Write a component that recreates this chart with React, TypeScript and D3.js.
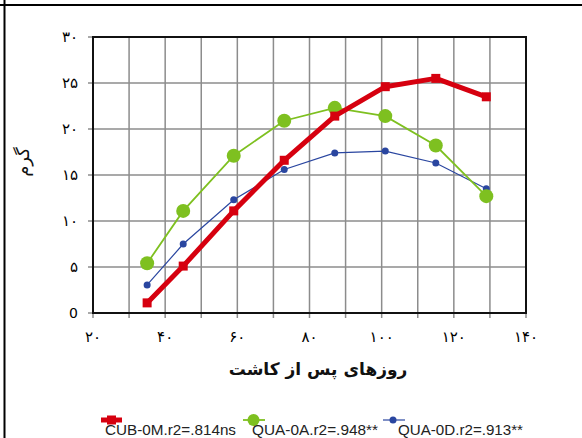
import * as React from 'react';
import * as d3 from 'd3';

// days after planting
const days = [35, 45, 59, 73, 87, 101, 115, 129];

const cub0M = [1.1, 5.1, 11.1, 16.6, 21.4, 24.6, 25.5, 23.5];
const qua0A = [5.4, 11.1, 17.1, 20.9, 22.3, 21.4, 18.2, 12.7];
const qua0D = [3.05, 7.5, 12.3, 15.6, 17.4, 17.6, 16.3, 13.5];

const seriesNames = ['CUB-0M.r2=.814ns', 'QUA-0A.r2=.948**', 'QUA-0D.r2=.913**'];

const xTicks = [20, 40, 60, 80, 100, 120, 140];
const xTickLabels = ['۲۰', '۴۰', '۶۰', '۸۰', '۱۰۰', '۱۲۰', '۱۴۰'];
const yTicks = [0, 5, 10, 15, 20, 25, 30];
const yTickLabels = ['0', '۵', '۱۰', '۱۵', '۲۰', '۲۵', '۳۰'];

const xTitle = 'روزهای پس از کاشت';
const yTitle = 'گرم';

const W = 582;
const H = 438;
const margin = {left: 93, right: 56, top: 37, bottom: 125};

export default function App() {
    const x = d3.scaleLinear().domain([20, 140]).range([margin.left, W - margin.right]);
    const y = d3.scaleLinear().domain([0, 30]).range([H - margin.bottom, margin.top]);
    const line = d3.line<number>().x((d, i) => x(days[i])).y(d => y(d));
    const xGrid = d3.range(30, 140, 10);
    const yGrid = d3.range(5, 30, 5);
    const x0 = x(20), x1 = x(140), y0 = y(0), y1 = y(30);

    return (
        <svg width={W} height={H} style={{position: 'absolute', left: 0, top: 0, background: '#fff'}}>
            <rect x={0} y={0} width={W} height={H} fill="#fff"/>
            {/* outer frame pieces */}
            <line x1={0} x2={W} y1={5} y2={5} stroke="#000" strokeWidth={2}/>
            <line x1={4.5} x2={4.5} y1={0} y2={H} stroke="#000" strokeWidth={2}/>

            {/* grid */}
            {xGrid.map(v => (
                <line key={'gx' + v} x1={x(v)} x2={x(v)} y1={y1} y2={y0 + 5} stroke="#8c8c8c" strokeWidth={1.5}/>
            ))}
            {yGrid.map(v => (
                <line key={'gy' + v} x1={x0 - 5} x2={x1} y1={y(v)} y2={y(v)} stroke="#8c8c8c" strokeWidth={1.5}/>
            ))}
            <line x1={x0 - 5} x2={x0} y1={y1} y2={y1} stroke="#8c8c8c" strokeWidth={1.5}/>
            <line x1={x0} x2={x0} y1={y0} y2={y0 + 5} stroke="#8c8c8c" strokeWidth={1.5}/>
            <line x1={x1} x2={x1} y1={y0} y2={y0 + 5} stroke="#8c8c8c" strokeWidth={1.5}/>
            <line x1={x0 - 5} x2={x0} y1={y0} y2={y0} stroke="#8c8c8c" strokeWidth={1.5}/>

            {/* plot border */}
            <rect x={x0} y={y1} width={x1 - x0} height={y0 - y1} fill="none" stroke="#111" strokeWidth={2}/>

            {/* tick labels */}
            {yTicks.map((v, i) => (
                <text key={'yt' + v} x={x0 - 15} y={y(v)} dy="0.35em" textAnchor="end"
                      fontFamily="DejaVu Sans" fontSize={v === 0 ? 14 : 15} fill="#000">{yTickLabels[i]}</text>
            ))}
            {xTicks.map((v, i) => (
                <text key={'xt' + v} x={x(v)} y={y0 + 24} dy="0.35em" textAnchor="middle"
                      fontFamily="DejaVu Sans" fontSize={15} fill="#000">{xTickLabels[i]}</text>
            ))}

            <text x={318} y={375} textAnchor="middle" fontFamily="DejaVu Sans" fontWeight="bold"
                  fontSize={17} fill="#111" direction="rtl">{xTitle}</text>
            <text transform="translate(23,162) rotate(-90)" textAnchor="middle" dy="0.35em"
                  fontFamily="DejaVu Sans" fontSize={18} fill="#111">{yTitle}</text>

            {/* series */}
            <path d={line(qua0D) || ''} fill="none" stroke="#2a46a0" strokeWidth={1.2}/>
            {qua0D.map((v, i) => (
                <circle key={'b' + i} cx={x(days[i])} cy={y(v)} r={3.5} fill="#2a46a0"/>
            ))}
            <path d={line(qua0A) || ''} fill="none" stroke="#7ec020" strokeWidth={1.8}/>
            {qua0A.map((v, i) => (
                <circle key={'g' + i} cx={x(days[i])} cy={y(v)} r={7} fill="#7ec020"/>
            ))}
            <path d={line(cub0M) || ''} fill="none" stroke="#d6000f" strokeWidth={5} strokeLinejoin="round"/>
            {cub0M.map((v, i) => (
                <rect key={'r' + i} x={x(days[i]) - 4.5} y={y(v) - 4.5} width={9} height={9} fill="#d6000f"/>
            ))}

            {/* legend */}
            <line x1={101} x2={122} y1={420} y2={420} stroke="#d6000f" strokeWidth={5}/>
            <rect x={107} y={415.5} width={9} height={9} fill="#d6000f"/>
            <text x={105} y={435} fontFamily="Liberation Sans" fontSize={14.5} fill="#222"
                  textLength={131} lengthAdjust="spacingAndGlyphs">{seriesNames[0]}</text>

            <line x1={243} x2={265} y1={420} y2={420} stroke="#7ec020" strokeWidth={1.8}/>
            <circle cx={253.5} cy={420} r={6} fill="#7ec020"/>
            <text x={252} y={435} fontFamily="Liberation Sans" fontSize={14.5} fill="#222"
                  textLength={126} lengthAdjust="spacingAndGlyphs">{seriesNames[1]}</text>

            <line x1={383} x2={405} y1={420} y2={420} stroke="#2a46a0" strokeWidth={1.2}/>
            <circle cx={393} cy={420} r={3.5} fill="#2a46a0"/>
            <text x={398} y={435} fontFamily="Liberation Sans" fontSize={14.5} fill="#222"
                  textLength={125} lengthAdjust="spacingAndGlyphs">{seriesNames[2]}</text>
        </svg>
    );
}
